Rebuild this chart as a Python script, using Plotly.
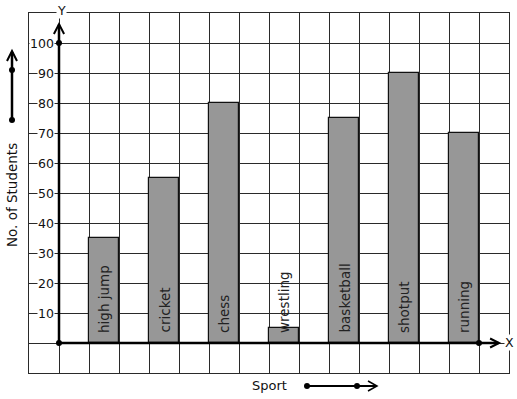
import plotly.graph_objects as go

# ---- data ----
sports = ["high jump", "cricket", "chess", "wrestling", "basketball", "shotput", "running"]
students = [35, 55, 80, 5, 75, 90, 70]
y_tick_values = [10, 20, 30, 40, 50, 60, 70, 80, 90, 100]
x_title = "Sport"
y_title = "No. of Students"

# ---- geometry helpers (figure pixels -> paper coords) ----
W, H = 517, 399
ML, MR, MT, MB = 29, 8, 13, 26
PW, PH = W - ML - MR, H - MT - MB


def px(x):
    return (x - ML) / PW


def py(y):
    return (H - MB - y) / PH


FONT = "DejaVu Sans"
INK = "#111111"
GRID = "#2a2a2a"

# bar centres on the grid: one empty column between bars
xpos = [1.5 + 2 * i for i in range(len(sports))]

fig = go.Figure()
fig.add_trace(go.Bar(
    x=xpos, y=students, width=1,
    marker=dict(color="#979797", line=dict(color="#111111", width=1.2)),
    hoverinfo="skip", showlegend=False,
))
fig.add_trace(go.Scatter(
    x=[0, 0, 14], y=[0, 100, 0], mode="markers",
    marker=dict(color="black", size=6), cliponaxis=False,
    hoverinfo="skip", showlegend=False,
))

annotations = []
# bar labels
for xc, name in zip(xpos, sports):
    annotations.append(dict(
        x=xc, y=0, xref="x", yref="y", text=name, showarrow=False,
        textangle=-90, yanchor="bottom", xanchor="center", yshift=8,
        font=dict(family=FONT, size=13.5, color="#222222"),
    ))
# y tick labels inside the grid
for v in y_tick_values:
    annotations.append(dict(
        x=-0.15, y=v, xref="x", yref="y", text=str(v), showarrow=False,
        xanchor="right", yanchor="middle", bgcolor="white", borderpad=0,
        font=dict(family=FONT, size=12.5, color=INK),
    ))
# axis letters
annotations.append(dict(x=px(61), y=py(10), xref="paper", yref="paper", text="Y",
                        xanchor="center", yanchor="middle",
                        showarrow=False, bgcolor="white", borderpad=0,
                        font=dict(family=FONT, size=12.5, color=INK)))
annotations.append(dict(x=px(509), y=py(342), xref="paper", yref="paper", text="X",
                        xanchor="center", yanchor="middle",
                        showarrow=False, bgcolor="white", borderpad=0,
                        font=dict(family=FONT, size=12.5, color=INK)))
# axis titles
annotations.append(dict(x=px(269), y=py(385), xref="paper", yref="paper", text=x_title,
                        xanchor="center", yanchor="middle",
                        showarrow=False, font=dict(family=FONT, size=13, color=INK)))
annotations.append(dict(x=px(12), y=py(195), xref="paper", yref="paper", text=y_title,
                        xanchor="center", yanchor="middle",
                        showarrow=False, textangle=-90,
                        font=dict(family=FONT, size=13.5, color=INK)))

shapes = []
# main axes (thick)
shapes.append(dict(type="line", xref="x", yref="y", x0=0, y0=0, x1=0, y1=106.2,
                   line=dict(color="black", width=2.5)))
shapes.append(dict(type="line", xref="x", yref="y", x0=0, y0=0, x1=14.65, y1=0,
                   line=dict(color="black", width=2.5)))
shapes.append(dict(type="path", xref="x", yref="y",
                   path="M -0.17,103 L 0,106.3 L 0.17,103",
                   line=dict(color="black", width=2)))
shapes.append(dict(type="path", xref="x", yref="y",
                   path="M 14.37,1.5 L 14.67,0 L 14.37,-1.5",
                   line=dict(color="black", width=2)))

# left decorative arrow
shapes.append(dict(type="line", xref="paper", yref="paper",
                   x0=px(12), y0=py(120), x1=px(12), y1=py(52),
                   line=dict(color="black", width=2.5)))
shapes.append(dict(type="path", xref="paper", yref="paper",
                   path=f"M {px(7)},{py(61)} L {px(12)},{py(51)} L {px(17)},{py(61)}",
                   line=dict(color="black", width=2)))
# bottom decorative arrow
shapes.append(dict(type="line", xref="paper", yref="paper",
                   x0=px(307), y0=py(386), x1=px(376), y1=py(386),
                   line=dict(color="black", width=2)))
shapes.append(dict(type="path", xref="paper", yref="paper",
                   path=f"M {px(368)},{py(381)} L {px(377)},{py(386)} L {px(368)},{py(391)}",
                   line=dict(color="black", width=1.5)))
# dots on decorative arrows
for (dx, dy) in [(12, 120), (12, 70), (307, 386), (357, 386)]:
    shapes.append(dict(type="circle", xref="paper", yref="paper",
                       xsizemode="pixel", ysizemode="pixel",
                       xanchor=px(dx), yanchor=py(dy),
                       x0=-3, x1=3, y0=-3, y1=3,
                       fillcolor="black", line=dict(color="black", width=0)))

fig.update_layout(
    width=W, height=H,
    margin=dict(l=ML, r=MR, t=MT, b=MB, pad=0),
    paper_bgcolor="white", plot_bgcolor="white",
    xaxis=dict(range=[-1, 15], tick0=0, dtick=1, showgrid=True, gridcolor=GRID,
               gridwidth=1, zeroline=False, showticklabels=False, ticks="",
               showline=True, mirror=True, linecolor=GRID, linewidth=1, fixedrange=True),
    yaxis=dict(range=[-10, 110], tick0=0, dtick=10, showgrid=True, gridcolor=GRID,
               gridwidth=1, zeroline=False, showticklabels=False, ticks="",
               showline=True, mirror=True, linecolor=GRID, linewidth=1, fixedrange=True),
    annotations=annotations,
    shapes=shapes,
    bargap=0,
    showlegend=False,
)

fig.write_html(
    "out.html",
    config={"displayModeBar": False},
    post_script="document.body.style.margin='0';document.body.style.padding='0';",
)
